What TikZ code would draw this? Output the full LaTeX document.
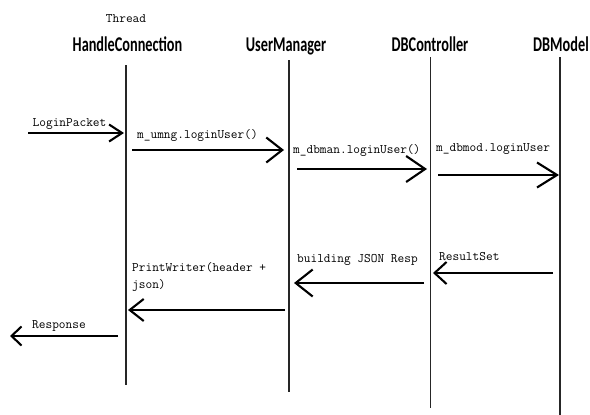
\documentclass[tikz,border=0pt]{standalone}
\usepackage{fontspec}
\newfontfamily\titlefam{Carlito}
\usetikzlibrary{arrows.meta}
\newcommand\monof{\fontsize{13}{17}\selectfont\ttfamily}
\begin{document}
\begin{tikzpicture}[x=1pt,y=-1pt,
  head/.style={inner sep=0pt,anchor=base,font=\titlefam\bfseries\fontsize{21}{24}\selectfont,xscale=0.68},
  lbl/.style={inner sep=0pt,anchor=base west,font=\monof},
  life/.style={line width=1.4pt,draw=black!85},
  msg/.style 2 args={line width=2.3pt,-{Straight Barb[length=#1,width=#2,line width=2.1pt]}}]
\useasboundingbox (0,0) rectangle (590,415);
% headings
\node[inner sep=0pt,anchor=base,font=\monof] (thr) at (126,23) {Thread};
\node[head] (hc) at (127.5,51.5) {HandleConnection};
\node[head] (um) at (286,51.5) {UserManager};
\node[head] (dbc) at (430,51) {DBController};
\node[head] (dbm) at (561,51.5) {DBModel};
% lifelines
\coordinate (hcT) at (126,65); \coordinate (hcB) at (126,385);
\coordinate (umT) at (289,60); \coordinate (umB) at (289,392);
\coordinate (dbcT) at (430.5,57); \coordinate (dbcB) at (430.5,408);
\coordinate (dbmT) at (560,57); \coordinate (dbmB) at (560,415);
\draw[life] (hcT) -- (hcB);
\draw[life] (umT) -- (umB);
\draw[life] (dbcT) -- (dbcB);
\draw[life] (dbmT) -- (dbmB);
% message end points
\coordinate (m1s) at (28,133); \coordinate (m1e) at (124,133);
\coordinate (m2s) at (132,150); \coordinate (m2e) at (284,150);
\coordinate (m3s) at (297,169); \coordinate (m3e) at (427,169);
\coordinate (m4s) at (438,175); \coordinate (m4e) at (559,175);
\coordinate (m5s) at (553,273); \coordinate (m5e) at (433,273);
\coordinate (m6s) at (424,283); \coordinate (m6e) at (294,283);
\coordinate (m7s) at (285,310); \coordinate (m7e) at (128,310);
\coordinate (m8s) at (118,336); \coordinate (m8e) at (10,336);
% messages
\draw[msg={13pt}{17pt}] (m1s) -- (m1e);
\draw[msg={16pt}{25pt}] (m2s) -- (m2e);
\draw[msg={19pt}{26pt}] (m3s) -- (m3e);
\draw[msg={20pt}{25pt}] (m4s) -- (m4e);
\draw[msg={12pt}{22pt}] (m5s) -- (m5e);
\draw[msg={17pt}{27pt}] (m6s) -- (m6e);
\draw[msg={14pt}{22pt}] (m7s) -- (m7e);
\draw[msg={10pt}{19pt}] (m8s) -- (m8e);
% labels
\node[lbl] (l1) at (32.5,126) {LoginPacket};
\node[lbl] (l2) at (137,138) {m\_umng.loginUser()};
\node[lbl] (l3) at (293,153) {m\_dbman.loginUser()};
\node[lbl] (l4) at (436,151) {m\_dbmod.loginUser};
\node[lbl] (l5) at (439,260) {ResultSet};
\node[lbl] (l6) at (297,262) {building JSON Resp};
\node[lbl] (l7a) at (132,271) {PrintWriter(header +};
\node[lbl] (l7b) at (132,288) {json)};
\node[lbl] (l8) at (32,328) {Response};
\end{tikzpicture}
\end{document}
